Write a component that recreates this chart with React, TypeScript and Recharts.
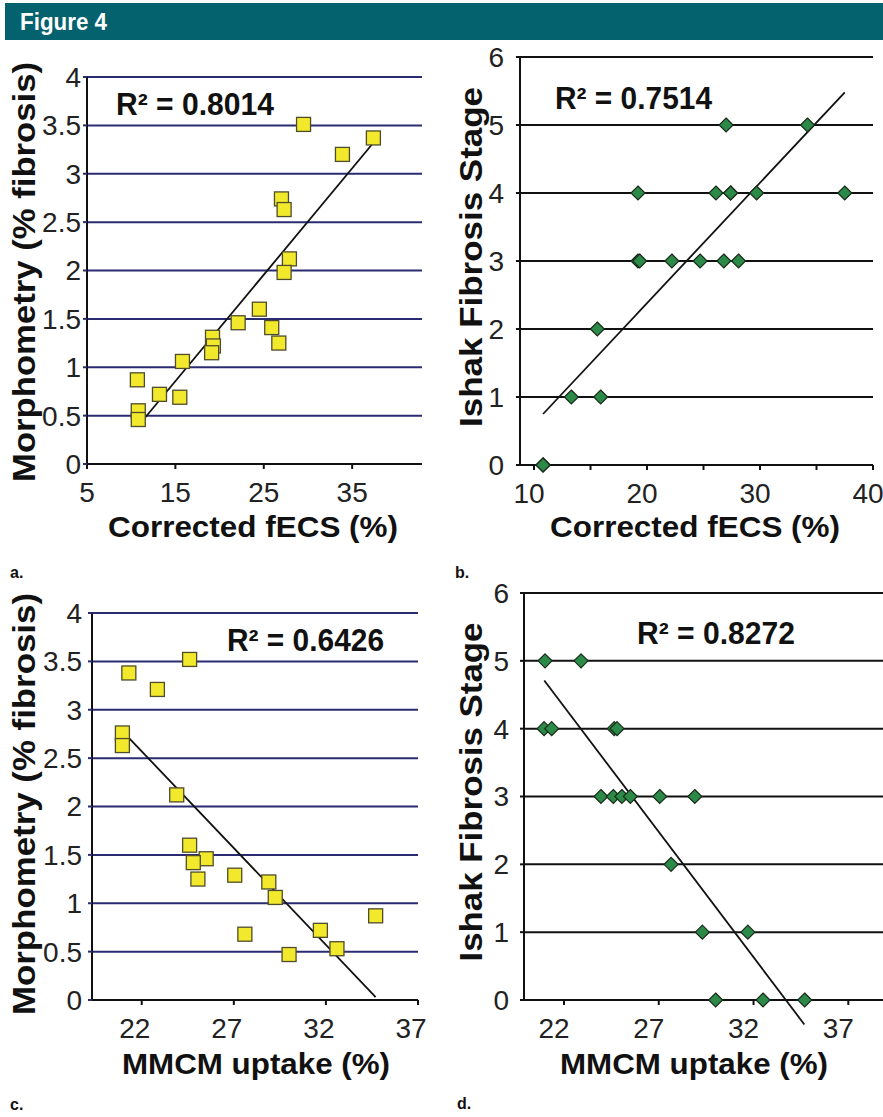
import React from 'react';
import { ScatterChart, Scatter, XAxis, YAxis, CartesianGrid, ReferenceLine } from 'recharts';

const FONT = '"Liberation Sans", Arial, Helvetica, sans-serif';

// ---------- Panel a: Morphometry vs corrected fECS ----------
const fecsA = [29.5, 37.4, 33.9, 27.0, 27.3, 27.9, 27.3, 24.5, 22.1, 25.9, 26.7, 19.2, 19.3, 19.1, 15.8, 10.7, 13.2, 15.5, 10.8, 10.8];
const morphA = [3.51, 3.37, 3.2, 2.74, 2.63, 2.12, 1.98, 1.6, 1.46, 1.41, 1.25, 1.31, 1.22, 1.15, 1.06, 0.87, 0.72, 0.69, 0.55, 0.46];
const trendA = [{ x: 10.76, y: 0.39 }, { x: 37.4, y: 3.32 }];

// ---------- Panel b: Ishak stage vs corrected fECS ----------
const fecsB = [10.8, 10.8, 10.8, 13.3, 15.9, 15.6, 19.2, 19.35, 22.2, 24.7, 26.8, 28.1, 19.2, 26.1, 27.4, 27.4, 29.7, 37.5, 27.0, 34.2];
const ishakB = [0, 0, 0, 1, 1, 2, 3, 3, 3, 3, 3, 3, 4, 4, 4, 4, 4, 4, 5, 5];
const trendB = [{ x: 10.8, y: 0.75 }, { x: 37.5, y: 5.48 }];

// ---------- Panel c: Morphometry vs MMCM uptake ----------
const mmcmC = [24.6, 21.3, 22.85, 20.95, 20.95, 23.9, 24.6, 25.5, 24.8, 25.05, 27.05, 28.9, 29.25, 27.6, 31.7, 32.6, 30.0, 34.7];
const morphC = [3.52, 3.38, 3.21, 2.76, 2.63, 2.12, 1.6, 1.46, 1.42, 1.25, 1.29, 1.22, 1.06, 0.68, 0.72, 0.53, 0.47, 0.87];
const trendC = [{ x: 20.95, y: 2.78 }, { x: 34.7, y: 0.03 }];

// ---------- Panel d: Ishak stage vs MMCM uptake ----------
const mmcmD = [21.0, 22.9, 20.95, 21.35, 24.65, 24.8, 23.95, 24.6, 25.05, 25.5, 27.05, 28.9, 27.65, 29.3, 31.7, 30.0, 32.5, 34.7];
const ishakD = [5, 5, 4, 4, 4, 4, 3, 3, 3, 3, 3, 3, 2, 1, 1, 0, 0, 0];
const trendD = [{ x: 20.96, y: 4.71 }, { x: 34.68, y: -0.36 }];

// ---------- Tick labels ----------
const morphTicks = [0, 0.5, 1, 1.5, 2, 2.5, 3, 3.5, 4];
const stageTicks = [0, 1, 2, 3, 4, 5, 6];
const fecsTicksA = [5, 15, 25, 35];
const fecsTicksB = [10, 15, 20, 25, 30, 35, 40];
const fecsLabelsB = [10, 20, 30, 40];
const mmcmTicks = [22, 27, 32, 37];

const NAVY = '#2b2b72';
const BLACK = '#111111';

const square = (p: any) => (
  <rect x={p.cx - 7} y={p.cy - 7} width={14} height={14} fill="#F2E92C" stroke="#4f4c2c" strokeWidth={1.3} />
);
const diamond = (p: any) => (
  <polygon
    points={`${p.cx},${p.cy - 7} ${p.cx + 7},${p.cy} ${p.cx},${p.cy + 7} ${p.cx - 7},${p.cy}`}
    fill="#2C8A48"
    stroke="#1a2a1a"
    strokeWidth={1.2}
  />
);

type Cfg = {
  left: number; top: number; width: number; height: number;
  x0: number; x1: number; y0: number; y1: number;
  xDomain: [number, number]; xTicks: number[]; xLabelSet?: number[]; xDx: number;
  yDomain: [number, number]; yTicks: number[]; yMargin: number;
  grid: string;
  data: { x: number; y: number }[];
  shape: (p: any) => React.ReactElement;
  trend: { x: number; y: number }[];
  xTitle: { text: string; cx: number; base: number; len: number };
  yTitle: { text: string; cy: number; base: number; len: number };
  r2: { text: string; x: number; base: number; len: number };
};

function Panel({ c }: { c: Cfg }) {
  const ox = c.left;
  const oy = c.top;
  const xTick = (p: any) => {
    const v = p.payload.value;
    const show = !c.xLabelSet || c.xLabelSet.includes(v);
    return (
      <text x={p.x + c.xDx} y={p.y} dy="0.71em" textAnchor="middle" fontSize={28} fill="#222" fontFamily={FONT}>
        {show ? String(v) : ''}
      </text>
    );
  };
  const yTick = (p: any) => (
    <text x={p.x} y={p.y} dy="0.355em" textAnchor="end" fontSize={28} fill="#222" fontFamily={FONT}>
      {String(p.payload.value)}
    </text>
  );
  const xLabel = () => (
    <text
      x={c.xTitle.cx - ox}
      y={c.xTitle.base - oy}
      textAnchor="middle"
      fontSize={30}
      fontWeight="bold"
      fill="#111"
      fontFamily={FONT}
      textLength={c.xTitle.len}
      lengthAdjust="spacingAndGlyphs"
    >
      {c.xTitle.text}
    </text>
  );
  const yLabel = () => (
    <g>
      <text
        x={c.yTitle.base - ox}
        y={c.yTitle.cy - oy}
        transform={`rotate(-90, ${c.yTitle.base - ox}, ${c.yTitle.cy - oy})`}
        textAnchor="middle"
        fontSize={32}
        fontWeight="bold"
        fill="#111"
        fontFamily={FONT}
        textLength={c.yTitle.len}
        lengthAdjust="spacingAndGlyphs"
      >
        {c.yTitle.text}
      </text>
      <text
        x={c.r2.x - ox}
        y={c.r2.base - oy}
        fontSize={31}
        fontWeight="bold"
        fill="#111"
        fontFamily={FONT}
        textLength={c.r2.len}
        lengthAdjust="spacingAndGlyphs"
      >
        {c.r2.text}
      </text>
    </g>
  );
  return (
    <div style={{ position: 'absolute', left: c.left, top: c.top, width: c.width, height: c.height }}>
      <ScatterChart
        width={c.width}
        height={c.height}
        margin={{ top: c.y0 - oy, right: ox + c.width - c.x1, bottom: 0, left: 0 }}
      >
        <CartesianGrid horizontal vertical={false} stroke={c.grid} strokeWidth={2} />
        <XAxis
          type="number"
          dataKey="x"
          domain={c.xDomain}
          ticks={c.xTicks}
          height={oy + c.height - c.y1}
          axisLine={{ stroke: BLACK, strokeWidth: 2 }}
          tickLine={{ stroke: BLACK, strokeWidth: 2 }}
          tickSize={5}
          tickMargin={13}
          tick={xTick}
          interval={0}
          label={xLabel}
        />
        <YAxis
          type="number"
          dataKey="y"
          domain={c.yDomain}
          ticks={c.yTicks}
          width={c.x0 - ox}
          axisLine={{ stroke: BLACK, strokeWidth: 2 }}
          tickLine={{ stroke: c.grid, strokeWidth: 2 }}
          tickSize={4}
          tickMargin={c.yMargin}
          tick={yTick}
          interval={0}
          label={yLabel}
        />
        <Scatter data={c.data} shape={c.shape} isAnimationActive={false} />
        <ReferenceLine segment={c.trend} stroke={BLACK} strokeWidth={1.8} ifOverflow="visible" />
      </ScatterChart>
    </div>
  );
}

const zip = (xs: number[], ys: number[]) => xs.map((x, i) => ({ x, y: ys[i] }));

const panelA: Cfg = {
  left: 0, top: 45, width: 440, height: 520, x0: 87, x1: 422, y0: 77, y1: 464,
  xDomain: [5, 42.9], xTicks: fecsTicksA, xDx: 0,
  yDomain: [0, 4], yTicks: morphTicks, yMargin: 2, grid: NAVY,
  data: zip(fecsA, morphA), shape: square, trend: trendA,
  xTitle: { text: 'Corrected fECS (%)', cx: 253, base: 537, len: 290 },
  yTitle: { text: 'Morphometry (% fibrosis)', cy: 272, base: 35, len: 420 },
  r2: { text: 'R² = 0.8014', x: 116, base: 115, len: 158 },
};

const panelB: Cfg = {
  left: 440, top: 30, width: 443, height: 530, x0: 520, x1: 873, y0: 57, y1: 465,
  xDomain: [8.76, 40], xTicks: fecsTicksB, xLabelSet: fecsLabelsB, xDx: -5,
  yDomain: [0, 6], yTicks: stageTicks, yMargin: 12, grid: BLACK,
  data: zip(fecsB, ishakB), shape: diamond, trend: trendB,
  xTitle: { text: 'Corrected fECS (%)', cx: 695, base: 537, len: 290 },
  yTitle: { text: 'Ishak Fibrosis Stage', cy: 257, base: 482, len: 340 },
  r2: { text: 'R² = 0.7514', x: 555, base: 109, len: 157 },
};

const panelC: Cfg = {
  left: 0, top: 575, width: 440, height: 542, x0: 92, x1: 418, y0: 613, y1: 1000,
  xDomain: [19.3, 37], xTicks: mmcmTicks, xDx: -7,
  yDomain: [0, 4], yTicks: morphTicks, yMargin: 6, grid: NAVY,
  data: zip(mmcmC, morphC), shape: square, trend: trendC,
  xTitle: { text: 'MMCM uptake (%)', cx: 256, base: 1074, len: 268 },
  yTitle: { text: 'Morphometry (% fibrosis)', cy: 804, base: 35, len: 422 },
  r2: { text: 'R² = 0.6426', x: 227, base: 651, len: 157 },
};

const panelD: Cfg = {
  left: 440, top: 565, width: 443, height: 552, x0: 524, x1: 883, y0: 593, y1: 1000,
  xDomain: [19.89, 38.83], xTicks: mmcmTicks, xDx: -10,
  yDomain: [0, 6], yTicks: stageTicks, yMargin: 11, grid: BLACK,
  data: zip(mmcmD, ishakD), shape: diamond, trend: trendD,
  xTitle: { text: 'MMCM uptake (%)', cx: 694, base: 1074, len: 268 },
  yTitle: { text: 'Ishak Fibrosis Stage', cy: 792, base: 482, len: 339 },
  r2: { text: 'R² = 0.8272', x: 637, base: 644, len: 158 },
};

export default function App() {
  return (
    <div style={{ position: 'absolute', left: 0, top: 0, width: 883, height: 1117, background: '#ffffff', overflow: 'hidden' }}>
      <svg width={883} height={1117} style={{ position: 'absolute', left: 0, top: 0 }}>
        <rect x={5} y={3} width={878} height={37} fill="#04616E" />
        <text x={20} y={29.5} fontSize={23} fontWeight="bold" fill="#ffffff" fontFamily={FONT} textLength={87} lengthAdjust="spacingAndGlyphs">Figure 4</text>
        <text x={10} y={578} fontSize={16} fontWeight="bold" fill="#111" fontFamily={FONT}>a.</text>
        <text x={455} y={578} fontSize={16} fontWeight="bold" fill="#111" fontFamily={FONT}>b.</text>
        <text x={10} y={1110} fontSize={16} fontWeight="bold" fill="#111" fontFamily={FONT}>c.</text>
        <text x={457} y={1109} fontSize={16} fontWeight="bold" fill="#111" fontFamily={FONT}>d.</text>
      </svg>
      <Panel c={panelA} />
      <Panel c={panelB} />
      <Panel c={panelC} />
      <Panel c={panelD} />
    </div>
  );
}
